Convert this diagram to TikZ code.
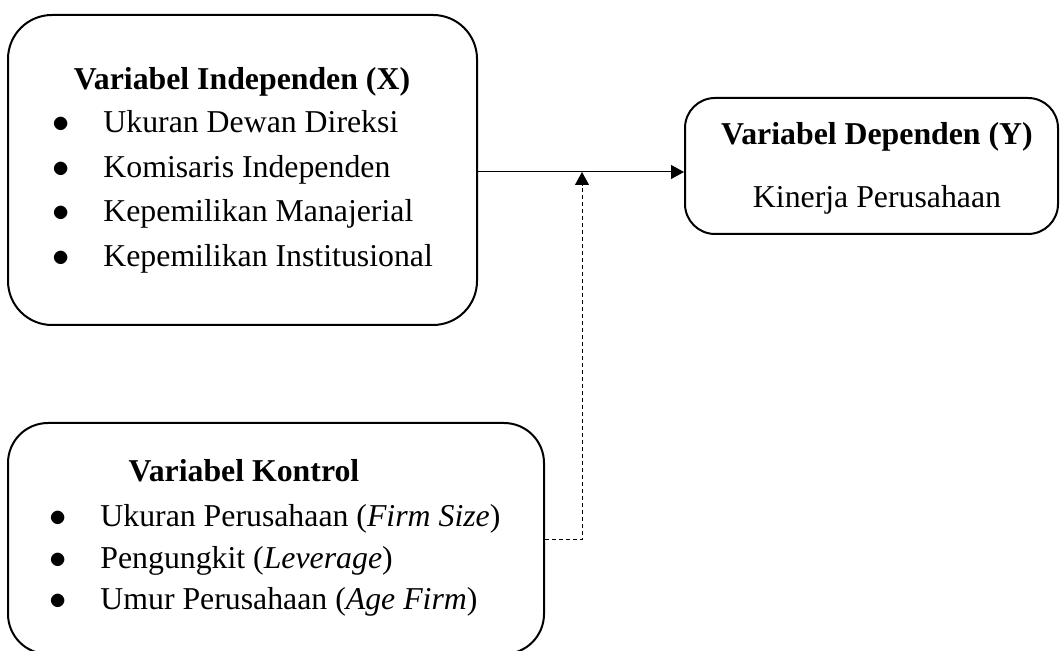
\documentclass[tikz,border=0pt]{standalone}
\usepackage{fontspec}
\setmainfont{Liberation Serif}
\usetikzlibrary{arrows.meta}

\begin{document}
\begin{tikzpicture}[x=0.5pt, y=-0.5pt,
    box/.style={draw, line width=1pt, inner sep=0pt},
    title/.style={anchor=base, inner sep=0pt, font=\fontsize{15.9}{22}\selectfont\bfseries},
    txt/.style={anchor=base, inner sep=0pt, font=\fontsize{15.9}{22}\selectfont},
    bul/.style={txt},
    item/.style={txt, anchor=base west},
    link/.style={line width=0.5pt, -{Triangle[length=6.5pt, width=7pt]}},
    ctrl/.style={link, dash pattern=on 2pt off 1.5pt}]
            \useasboundingbox (0,0) rectangle (1060,651);

            \node[box, rounded corners=22pt, minimum width=234.5pt, minimum height=155pt] (indep) at (242.5,170) {};
            \node[box, rounded corners=15pt, minimum width=186.5pt, minimum height=68pt] (dep) at (871.5,166) {};
            \node[box, rounded corners=20pt, minimum width=268pt, minimum height=115.5pt] (kontrol) at (276,538.5) {};

            \node[title] (indeptitle) at (242,90) {Variabel Independen (X)};
            \foreach \t [count=\i] in {Ukuran Dewan Direksi, Komisaris Independen, Kepemilikan Manajerial, Kepemilikan Institusional} {
                \node[bul] (indepbul\i) at ({61},{133+44.5*(\i-1)}) {$\bullet$};
                \node[item] (indepitem\i) at ({103},{133+44.5*(\i-1)}) {\t};
            }

            \node[title] (deptitle) at (877,145) {Variabel Dependen (Y)};
            \node[txt] (depitem) at (877,208) {Kinerja Perusahaan};

            \node[title] (kontroltitle) at (244,482) {Variabel Kontrol};
            \foreach \t [count=\i] in {Ukuran Perusahaan (\textit{Firm Size}), Pengungkit (\textit{Leverage}), Umur Perusahaan (\textit{Age Firm})} {
                \node[bul] (kontrolbul\i) at ({58},{527+41.5*(\i-1)}) {$\bullet$};
                \node[item] (kontrolitem\i) at ({100},{527+41.5*(\i-1)}) {\t};
            }

            \coordinate (meet) at (582,172);
            \coordinate (turn) at (582,540);
            \draw[link] (indep.east |- meet) -- (dep.west |- meet);
            \draw[ctrl] (kontrol.east |- turn) -- (turn) -- (meet);
        \end{tikzpicture}
\end{document}
